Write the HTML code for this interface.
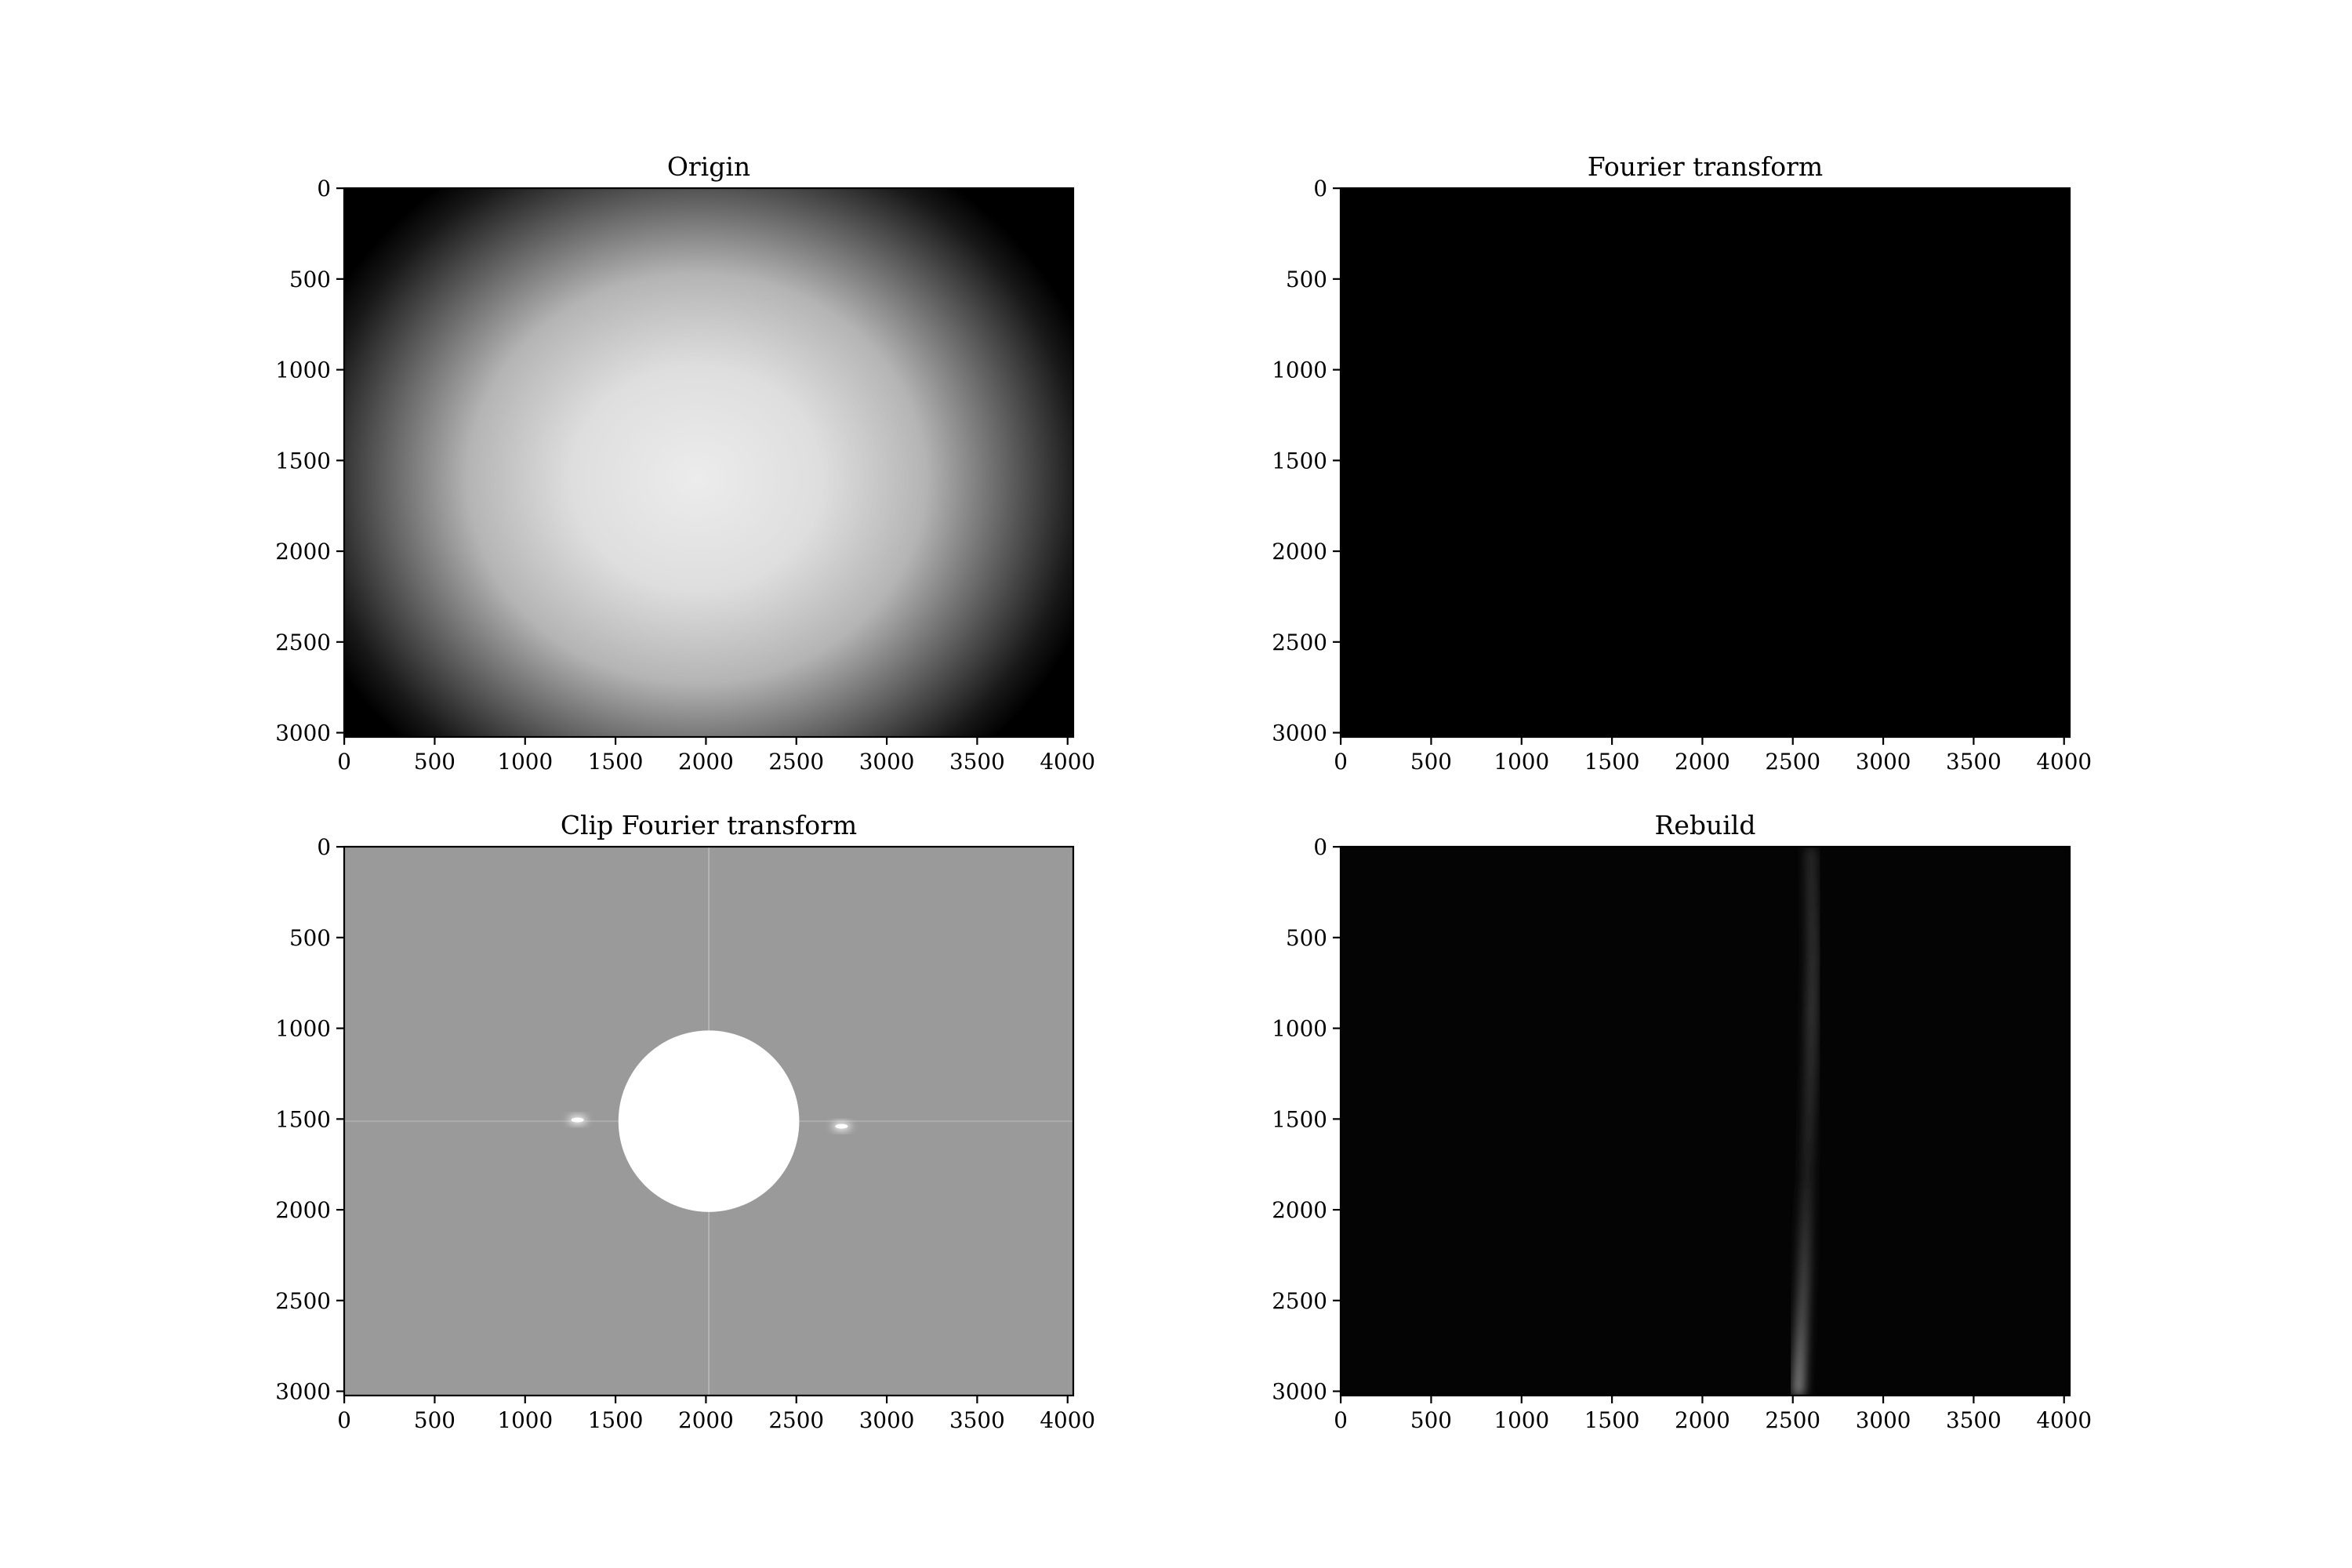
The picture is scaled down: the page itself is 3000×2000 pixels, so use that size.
<!DOCTYPE html>
<html><head><meta charset="utf-8">
<style>
html,body{margin:0;padding:0;background:#fff;}
svg{display:block;}
text{font-family:"DejaVu Serif","Liberation Serif",serif;fill:#000;}
</style></head>
<body>
<svg id="fig" width="3000" height="2000" viewBox="0 0 3000 2000" xmlns="http://www.w3.org/2000/svg">
<defs>
  <radialGradient id="originGrad" gradientUnits="userSpaceOnUse" cx="0" cy="0" r="1">
    <stop offset="0" stop-color="#ececec"/>
    <stop offset="0.3" stop-color="#dedede"/>
    <stop offset="0.55" stop-color="#b4b4b4"/>
    <stop offset="0.75" stop-color="#606060"/>
    <stop offset="0.92" stop-color="#181818"/>
    <stop offset="1" stop-color="#000"/>
  </radialGradient>
  <filter id="blurS" x="-50%" y="-50%" width="200%" height="200%"><feGaussianBlur stdDeviation="5"/></filter>
  <filter id="blurL" x="-50%" y="-10%" width="200%" height="120%"><feGaussianBlur stdDeviation="7"/></filter>
  <linearGradient id="streakGrad" x1="0" y1="0" x2="0" y2="1">
    <stop offset="0" stop-color="#333"/>
    <stop offset="0.3" stop-color="#444"/>
    <stop offset="0.6" stop-color="#2a2a2a"/>
    <stop offset="0.85" stop-color="#666"/>
    <stop offset="1" stop-color="#aaa"/>
  </linearGradient>
</defs>
<g id="root"></g>
</svg>
<script>
// Data
const imgWidth = 4032;
const imgHeight = 3024;
const xTicks = [0,500,1000,1500,2000,2500,3000,3500,4000];
const yTicks = [0,500,1000,1500,2000,2500,3000];
const titles = ["Origin","Fourier transform","Clip Fourier transform","Rebuild"];
const originCenter = [1950,1600];
const originRadius = [2300,2050];
const clipCircle = [2016,1512,500];
const clipSpots = [[1290,1505],[2750,1540]];
const streakX = [2600,2610,2600,2580,2560,2530];
const streakY = [0,600,1200,1800,2400,3024];

const NS = "http://www.w3.org/2000/svg";
const root = document.getElementById('root');
const axes = [
  {x:439,y:240},{x:1710,y:240},{x:439,y:1080},{x:1710,y:1080}
];
const W = 930, H = 700;
function mk(tag, attrs, parent){
  const e = document.createElementNS(NS, tag);
  for (const k in attrs) e.setAttribute(k, attrs[k]);
  (parent||root).appendChild(e);
  return e;
}
axes.forEach((a, i) => {
  const sx = v => a.x + (v + 0.5) / imgWidth * W;
  const sy = v => a.y + (v + 0.5) / imgHeight * H;
  const g = mk('g', {});
  
  
  const clipId = 'clip' + i;
  const cp = mk('clipPath', {id: clipId}, g);
  mk('rect', {x:a.x, y:a.y, width:W, height:H}, cp);
  const img = mk('g', {'clip-path':'url(#' + clipId + ')'}, g);
  
  
  if (i === 0) {
    const gr = document.getElementById('originGrad');
    gr.setAttribute('gradientTransform', `translate(${sx(originCenter[0])},${sy(originCenter[1])}) scale(${originRadius[0]/imgWidth*W},${originRadius[1]/imgHeight*H})`);
    mk('rect', {x:a.x, y:a.y, width:W, height:H, fill:'url(#originGrad)'}, img);
  } else if (i === 1) {
    mk('rect', {x:a.x, y:a.y, width:W, height:H, fill:'#000'}, img);
  } else if (i === 2) {
    mk('rect', {x:a.x, y:a.y, width:W, height:H, fill:'#9a9a9a'}, img);
    const vl = mk('line', {x1:sx(clipCircle[0]), x2:sx(clipCircle[0]), y1:a.y, y2:a.y+H, stroke:'#b4b4b4', 'stroke-width':2}, img);
    
    const hl = mk('line', {x1:a.x, x2:a.x+W, y1:sy(clipCircle[1]), y2:sy(clipCircle[1]), stroke:'#acacac', 'stroke-width':2}, img);
    
    clipSpots.forEach(s => {
      const sp = mk('ellipse', {cx:sx(s[0]), cy:sy(s[1]), rx:12, ry:5, fill:'#fff', filter:'url(#blurS)'}, img);
      
      mk('ellipse', {cx:sx(s[0]), cy:sy(s[1]), rx:8, ry:3, fill:'#fff'}, img);
      mk('line', {x1:sx(s[0]), x2:sx(s[0]), y1:sy(s[1])-40, y2:sy(s[1])+40, stroke:'#c8c8c8', 'stroke-width':3, filter:'url(#blurS)'}, img);
    });
    const c = mk('ellipse', {cx:sx(clipCircle[0]), cy:sy(clipCircle[1]), rx:clipCircle[2]/imgWidth*W, ry:clipCircle[2]/imgHeight*H, fill:'#fff'}, img);
    
  } else {
    mk('rect', {x:a.x, y:a.y, width:W, height:H, fill:'#040404'}, img);
    let d = '';
    streakX.forEach((v, k) => { d += (k ? 'L' : 'M') + sx(v) + ',' + sy(streakY[k]); });
    const p = mk('path', {d:d, stroke:'url(#streakGrad)', 'stroke-width':12, fill:'none', filter:'url(#blurL)'}, img);
    
  }
  const fr = mk('rect', {x:a.x, y:a.y, width:W, height:H, fill:'none', stroke:'#000', 'stroke-width':2.2}, g);
  
  const t = mk('text', {x:a.x + W/2, y:a.y - 16, 'text-anchor':'middle', 'font-size':33}, g);
  t.textContent = titles[i];
  
  
  xTicks.forEach(v => {
    const x = sx(v);
    mk('line', {x1:x, x2:x, y1:a.y+H, y2:a.y+H+10, stroke:'#000', 'stroke-width':2.2}, g);
    const tl = mk('text', {x:x, y:a.y+H+41, 'text-anchor':'middle', 'font-size':27.8}, g);
    tl.textContent = v;
    
    
  });
  yTicks.forEach(v => {
    const y = sy(v);
    mk('line', {x1:a.x-10, x2:a.x, y1:y, y2:y, stroke:'#000', 'stroke-width':2.2}, g);
    const tl = mk('text', {x:a.x-17, y:y+10, 'text-anchor':'end', 'font-size':27.8}, g);
    tl.textContent = v;
    
    
  });
});
</script>
</body></html>
